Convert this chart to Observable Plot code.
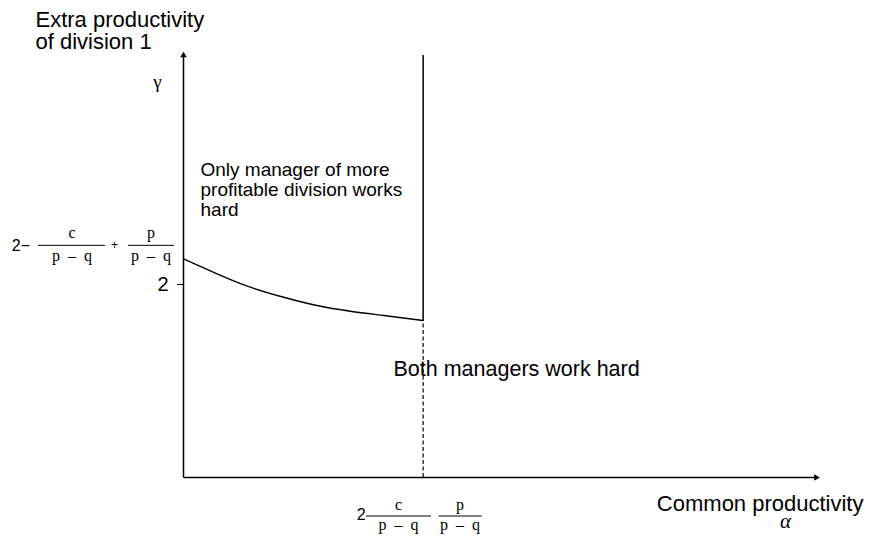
<!DOCTYPE html>
<html><head><meta charset="utf-8">
<script src="https://cdn.jsdelivr.net/npm/d3@7"></script>
<script src="https://cdn.jsdelivr.net/npm/@observablehq/plot@0.6"></script>
<style>
html,body{margin:0;padding:0;background:#fff;}
</style>
</head><body><div id="chart"></div>
<script>
// ---- data ----
const curveAlpha = [0, 0.14, 0.279, 0.418, 0.557, 0.696, 0.835, 1.0];
const curveGamma = [2.266, 2.111, 1.972, 1.868, 1.782, 1.723, 1.679, 1.627];
const alphaStar = [1];
const alphaMax = [2.65];
const gammaMax = [4.4];
const gammaLineTop = [4.373];
const yTicks = [2];
const yTitle = ["Extra productivity", "of division 1"];
const xTitle = ["Common productivity"];
const xSymbol = ["α"];
const ySymbol = ["γ"];
const regionLabels = ["Only manager of more\nprofitable division works\nhard", "Both managers work hard"];
const yFormula = ["2−", "c", "p – q", "+", "p", "p – q"];
const xFormula = ["2", "c", "p – q", "p", "p – q"];

// ---- build ----
const curve = curveAlpha.map((a, i) => ({alpha: a, gamma: curveGamma[i]}));
const gStart = curveGamma[0];
const gEnd = curveGamma[curveGamma.length - 1];
const axes = [
  {x1: 0, y1: 0, x2: alphaMax[0], y2: 0},
  {x1: 0, y1: 0, x2: 0, y2: gammaMax[0]}
];
const sans = "'Liberation Sans', Arial, Helvetica, sans-serif";
const serif = "'Liberation Serif', 'Times New Roman', serif";

function formula(ax, ay, items) {
  return (index, scales) => {
    const g = d3.create("svg:g");
    const x0 = scales.x(ax), y0 = scales.y(ay);
    for (const it of items) {
      if (it.bar) {
        g.append("line")
          .attr("x1", x0 + it.bar[0]).attr("x2", x0 + it.bar[1])
          .attr("y1", y0 + it.dy).attr("y2", y0 + it.dy)
          .attr("stroke", "#000").attr("stroke-width", 1);
      } else {
        const t = g.append("text")
          .attr("x", x0 + it.dx).attr("y", y0 + it.dy)
          .attr("text-anchor", it.anchor || "middle")
          .attr("dominant-baseline", it.baseline || "alphabetic")
          .style("font-family", it.font || serif)
          .style("font-size", (it.size || 16) + "px")
          .attr("fill", "#000")
          .text(it.text);
        if (it.ls) t.style("letter-spacing", it.ls + "px");
      }
    }
    return g.node();
  };
}

const yFormulaMark = formula(0, gStart, [
  {text: yFormula[0], dx: -153, dy: -13, anchor: "end", baseline: "central", font: sans, size: 16},
  {bar: [-145, -78], dy: -13},
  {text: yFormula[1], dx: -111, dy: -20},
  {text: yFormula[2], dx: -110, dy: 3, ls: 2},
  {text: yFormula[3], dx: -68.5, dy: -13, baseline: "central", font: sans, size: 12},
  {bar: [-55, -9], dy: -13},
  {text: yFormula[4], dx: -32, dy: -20},
  {text: yFormula[5], dx: -31, dy: 3, ls: 2}
]);

const xFormulaMark = formula(alphaStar[0], 0, [
  {text: xFormula[0], dx: -57, dy: 37, anchor: "end", baseline: "central", font: sans, size: 16},
  {bar: [-56.6, 8.4], dy: 39},
  {text: xFormula[1], dx: -24, dy: 33},
  {text: xFormula[2], dx: -23, dy: 53, ls: 2},
  {bar: [16, 59], dy: 39},
  {text: xFormula[3], dx: 37.5, dy: 33},
  {text: xFormula[4], dx: 38.5, dy: 53, ls: 2}
]);

const chart = Plot.plot({
  width: 871,
  height: 539,
  marginLeft: 183,
  marginRight: 53,
  marginTop: 52.4,
  marginBottom: 62,
  style: {fontFamily: sans, background: "#fff", color: "#000"},
  x: {domain: [0, alphaMax[0]], axis: null},
  y: {domain: [0, gammaMax[0]]},
  marks: [
    Plot.axisY({ticks: yTicks, tickFormat: d => String(d), tickSize: 6, tickPadding: 9, fontSize: 20, label: null, stroke: "#000", fill: "#000"}),
    Plot.link(axes, {x1: "x1", y1: "y1", x2: "x2", y2: "y2", stroke: "#000", strokeWidth: 1.5}),
    Plot.dot([axes[0]], {x: "x2", y: "y2", symbol: "triangle", r: 2.4, rotate: 90, dx: -2.5, fill: "#000", stroke: "none"}),
    Plot.dot([axes[1]], {x: "x2", y: "y2", symbol: "triangle", r: 2.4, dy: 2.5, fill: "#000", stroke: "none"}),
    Plot.ruleX(alphaStar, {x: d => d, y1: gEnd, y2: gammaLineTop[0], stroke: "#000", strokeWidth: 1.5}),
    Plot.ruleX(alphaStar, {x: d => d, y1: 0, y2: gEnd, stroke: "#000", strokeWidth: 1.2, strokeDasharray: "4,2.5"}),
    Plot.line(curve, {x: "alpha", y: "gamma", curve: "natural", stroke: "#000", strokeWidth: 1.4}),
    Plot.text([yTitle.join("\n")], {frameAnchor: "top-left", text: d => d, dx: -148, dy: -42, textAnchor: "start", lineAnchor: "top", fontSize: 22, lineHeight: 1, fill: "#000"}),
    Plot.text(ySymbol, {frameAnchor: "top-left", text: d => d, dx: -26, dy: 22, textAnchor: "middle", lineAnchor: "top", fontSize: 19, fontFamily: serif, fill: "#000"}),
    Plot.text([regionLabels[0]], {frameAnchor: "top-left", text: d => d, dx: 17, dy: 109, textAnchor: "start", lineAnchor: "top", fontSize: 19, lineHeight: 1.053, fill: "#000"}),
    Plot.text([regionLabels[1]], {frameAnchor: "top-left", text: d => d, dx: 210, dy: 308.3, textAnchor: "start", lineAnchor: "top", fontSize: 21.5, fill: "#000"}),
    Plot.text(xTitle, {frameAnchor: "bottom-right", text: d => d, dx: 45, dy: 17.4, textAnchor: "end", lineAnchor: "top", fontSize: 22, fill: "#000"}),
    Plot.text(xSymbol, {frameAnchor: "bottom-right", text: d => d, dx: -33, dy: 36, textAnchor: "middle", lineAnchor: "top", fontSize: 21, fontFamily: serif, fontStyle: "italic", fill: "#000"}),
    yFormulaMark,
    xFormulaMark
  ]
});
document.getElementById("chart").appendChild(chart);
</script>
</body></html>
